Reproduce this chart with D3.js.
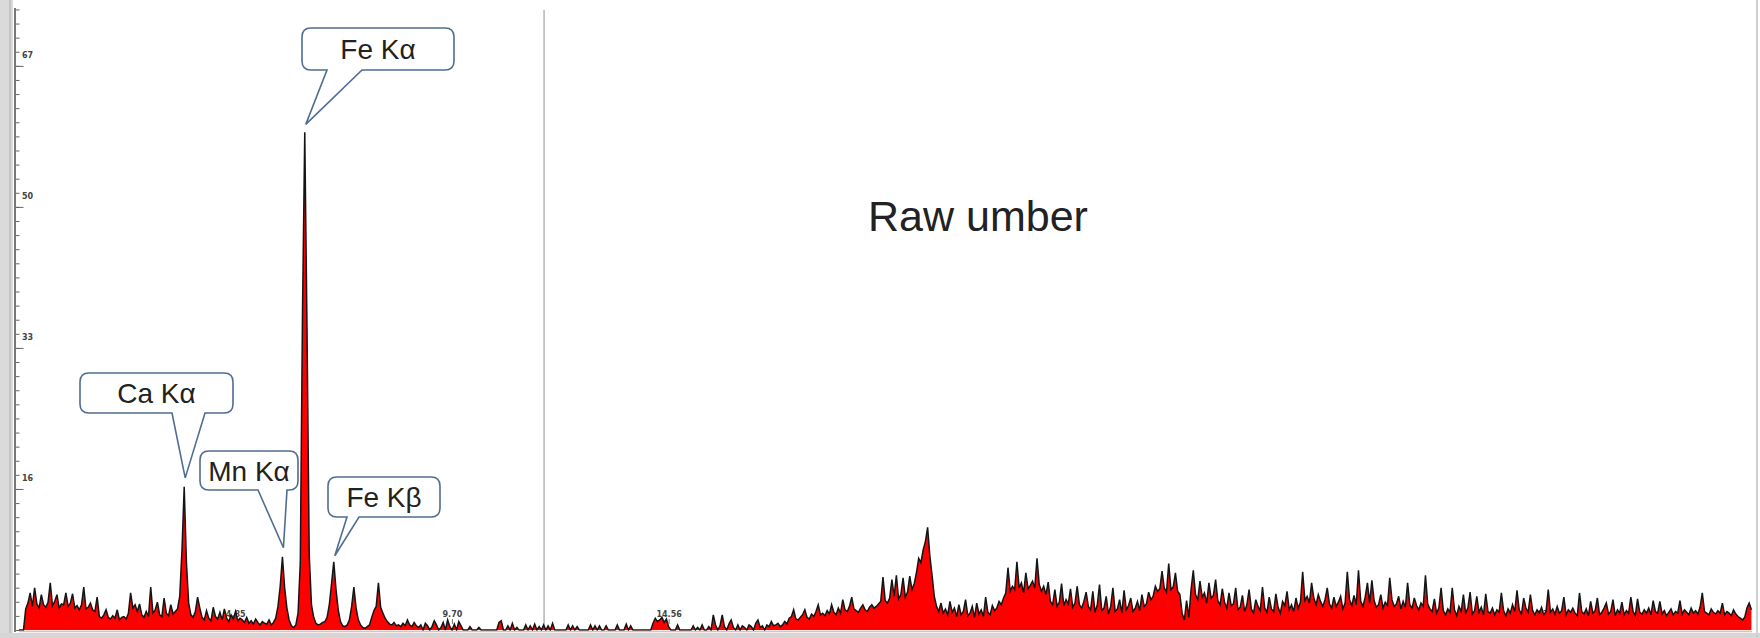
<!DOCTYPE html>
<html><head><meta charset="utf-8">
<script src="https://cdn.jsdelivr.net/npm/d3@7/dist/d3.min.js"></script>
<style>html,body{margin:0;padding:0;background:#fff;overflow:hidden}</style>
</head><body>
<svg id="chart" width="1760" height="638"></svg>
<script>
// ---- data (counts per 0.05 keV channel) ----
const channelWidth = 0.05; // keV
const countsA = [ // 0.00 - 4.95 keV
0,0,0,2.5,3.2,4.4,2.8,5.0,3.1,2.6,4.2,3.0,2.7,3.3,5.6,2.9,3.4,4.2,2.6,3.1,
3.0,4.4,2.8,3.2,4.3,2.6,2.9,2.4,3.0,5.1,2.5,2.7,3.2,2.4,2.2,3.9,1.6,1.4,1.8,2.4,
1.5,1.3,1.7,1.4,2.4,1.2,1.5,1.6,1.3,2.0,4.4,2.6,3.0,2.2,3.1,1.8,1.5,2.2,1.6,5.1,
2.0,2.4,3.3,1.8,1.6,3.8,2.0,1.7,3.0,1.9,2.2,2.5,4.0,9.5,17.0,8.0,3.2,1.8,1.5,2.2,
3.9,2.6,1.5,1.2,2.3,1.4,1.1,2.7,1.6,1.3,2.1,1.2,2.5,1.4,1.0,1.8,1.3,2.2,1.1,1.4];
const countsB = [ // 5.00 - 9.95 keV
1.2,0.9,1.5,0.8,1.1,0.7,1.3,0.9,0.6,1.0,0.8,0.7,1.2,0.6,0.9,1.4,2.8,5.2,8.7,5.0,
2.6,1.2,0.5,0.3,0.6,2.0,8.0,38,59.1,36,9.0,3.0,1.5,0.8,0.6,0.7,0.9,1.0,1.5,3.0,
5.5,8.1,4.8,2.4,1.0,0.5,0.4,0.6,1.2,2.8,5.1,2.6,1.2,0.6,0.3,0.2,0.4,0.6,1.5,2.3,
2.8,5.6,2.7,2.0,1.4,1.0,0.7,0.6,0.9,0.5,0.6,0.4,0.8,0.5,1.2,0.6,0.4,0.9,0.5,0.3,
0.6,0,0.8,0.5,0,0.4,1.1,0.6,0,0.3,0.9,0,1.2,0.4,0,0.7,0,1.0,0.5,0];
const countsC = [ // 10.00 - 14.95 keV
0,0,0.4,0,0,0,0.3,0,0,0,0,0,0,0,0,0.9,1.1,0,0,0.5,
0,0.8,0,0.3,0,0,0,0.6,0,0.5,0,0.7,0,0.4,0,0.6,0,0.5,0,0.8,
0,0,0,0,0,0,0.6,0,0.5,0,0.4,0,0,0,0,0,0.6,0,0.5,0,
0.5,0,0,0.5,0,0,0,0,0.6,0,0,0,0.7,0,0.5,0,0,0,0,0,
0,0,0,0,0.8,1.4,1.0,1.2,1.5,0.9,1.3,0.4,0,0,0,0.6,0,0,0,0];
const countsD = [ // 15.00 - 19.95 keV
0,0,0.5,0,0.3,0,0.6,0,0,0.4,0,1.8,0.6,0,0.5,1.8,0.4,0,0.7,1.2,
0.3,0,0.6,0,0.5,0.3,0,0.6,0.4,0,0.8,1.2,0.3,0.5,0,0.6,0.4,1.0,0.5,0.6,
0.8,0.4,0.6,1.0,0.7,1.4,1.6,2.4,1.3,1.2,1.5,1.8,2.4,1.5,1.3,1.9,1.6,2.2,3.0,1.8,
2.0,1.7,2.3,1.9,3.0,2.1,1.8,2.6,2.0,3.6,2.4,2.2,2.8,3.9,2.5,2.3,2.1,2.6,3.0,2.4,
2.2,2.7,3.0,2.6,2.8,3.1,3.4,6.3,3.5,3.2,3.8,6.0,4.0,6.5,3.7,4.2,6.2,3.9,4.5,6.4];
const countsE = [ // 20.00 - 24.95 keV
4.8,5.5,6.8,8.5,8.0,9.5,10.5,12.2,8.8,6.5,4.0,2.8,2.2,3.2,2.0,2.5,1.8,3.4,2.1,2.6,
1.6,3.0,1.8,2.2,3.6,1.7,2.0,2.8,1.5,3.2,1.9,2.4,1.6,3.9,2.1,1.8,2.9,2.3,2.6,3.4,
3.0,3.8,4.4,7.4,4.6,5.2,4.8,8.1,5.0,5.6,4.4,6.8,4.9,5.3,5.8,5.0,8.5,5.4,4.6,5.2,
4.2,5.7,3.4,3.0,4.8,2.8,3.3,5.5,2.9,3.6,3.1,4.9,2.7,3.2,5.2,3.0,2.6,3.4,4.5,2.8,
2.4,4.6,2.1,3.0,5.4,2.3,2.6,4.0,1.9,2.8,5.0,2.2,2.5,3.6,2.0,4.7,2.4,2.9,3.8,2.2];
const countsF = [ // 25.00 - 29.95 keV
2.6,3.4,2.3,4.2,2.8,3.1,4.5,3.6,4.0,5.2,4.6,4.9,7.0,5.0,4.5,7.9,4.8,5.1,6.8,4.6,
4.2,2.0,1.2,3.5,1.5,4.8,7.1,4.2,3.6,5.8,3.9,4.4,3.2,5.6,3.8,4.1,6.0,3.5,3.0,4.9,
3.3,2.6,4.4,2.9,3.1,5.0,2.4,2.7,4.1,2.2,3.0,4.8,2.5,2.0,3.6,2.8,2.3,5.1,2.6,2.1,
3.9,2.5,2.2,4.3,2.7,2.0,3.4,2.9,4.6,2.4,3.0,2.2,3.8,2.6,3.3,6.9,3.5,4.0,3.2,5.6,
3.8,3.0,4.2,3.4,2.8,3.6,5.0,3.1,2.6,3.9,2.8,3.3,4.0,2.5,3.2,6.9,3.6,2.9,4.1,3.0];
const countsG = [ // 30.00 - 34.95 keV
7.1,3.4,2.8,3.9,5.6,3.2,5.9,3.5,2.7,3.0,4.2,2.6,3.3,2.9,6.2,3.6,2.8,3.1,4.0,2.5,
3.4,2.7,5.6,3.0,2.6,3.8,2.9,2.4,3.2,2.8,6.5,3.1,2.5,2.2,3.7,2.0,2.6,5.0,2.3,1.8,
2.5,2.1,5.0,2.4,1.7,2.8,2.2,4.2,2.0,2.6,4.5,1.9,2.3,4.0,2.1,2.7,1.8,4.3,2.2,2.0,
2.6,1.8,2.4,2.1,4.4,2.3,1.7,2.5,2.0,3.0,2.2,4.7,2.4,1.9,3.8,2.6,2.1,4.2,2.3,1.8,
2.4,2.0,2.7,1.8,2.2,4.8,2.1,2.5,1.9,2.8,2.0,2.3,3.9,1.8,2.4,2.1,2.6,2.0,1.7,4.4];
const countsH = [ // 35.00 - 38.80 keV
2.2,1.9,2.5,1.7,3.4,2.0,2.3,3.8,1.8,2.1,2.6,3.2,1.9,2.2,3.6,1.7,2.4,2.0,3.3,1.8,
2.3,2.0,3.9,2.2,1.7,3.7,2.1,1.9,2.4,2.0,2.6,1.8,3.5,2.2,2.0,3.4,1.9,2.3,1.7,2.1,
2.5,1.8,2.2,2.0,3.5,1.9,2.4,2.1,1.8,2.6,2.0,2.3,1.9,2.7,4.4,2.2,2.0,1.8,2.5,2.1,
1.9,2.3,2.0,3.2,1.8,2.2,2.0,1.7,2.4,1.9,1.6,1.4,1.2,1.5,2.6,3.2,2.4];

const yTickValues = [16.75, 33.5, 50.25, 67];
const yTickLabels = ["16", "33", "50", "67"];
const xTickValues = [4.8535, 9.707, 14.5605, 19.414, 24.2675, 29.121, 33.9745];
const xTickLabels = ["4.85", "9.70", "14.56", "19.41", "24.26", "29.12", "33.97"];
const peakNames = ["Ca Kα", "Mn Kα", "Fe Kα", "Fe Kβ"];
const peakEnergies = [3.70, 5.90, 6.40, 7.05];
const titleText = "Raw umber";
const cursorEnergy = 11.76;

// ---- build ----
const counts = [].concat(countsA, countsB, countsC, countsD, countsE, countsF, countsG, countsH);
const spectrum = counts.map((c, i) => ({ e: i * channelWidth, c: c }));

const svg = d3.select("#chart");
const x = d3.scaleLinear().domain([0, 38.8]).range([19, 1751.4]);
const y = d3.scaleLinear().domain([0, 67]).range([630, 630 - 67 * 8.42]);
const FONT = "'Liberation Sans', Arial, sans-serif";

// window frame pieces
svg.append("rect").attr("x", 0).attr("y", 0).attr("width", 13).attr("height", 638).attr("fill", "#dadada");
svg.append("rect").attr("x", 9).attr("y", 0).attr("width", 2).attr("height", 638).attr("fill", "#c4c4c4");
svg.append("rect").attr("x", 0).attr("y", 633).attr("width", 1760).attr("height", 5).attr("fill", "#d6d6d6");
svg.append("line").attr("x1", 1757).attr("x2", 1757).attr("y1", 0).attr("y2", 638).attr("stroke", "#cfcfcf").attr("stroke-width", 2);

// cursor line
svg.append("line").attr("x1", x(cursorEnergy)).attr("x2", x(cursorEnergy))
  .attr("y1", 10).attr("y2", 630).attr("stroke", "#a8a8a8").attr("stroke-width", 1.3);

// x tick labels (under the spectrum)
const xt = svg.append("g");
xTickValues.forEach((v, i) => {
  xt.append("text").attr("x", x(v)).attr("y", 617).attr("text-anchor", "middle")
    .attr("font-family", "'DejaVu Sans', sans-serif").attr("font-size", 8).attr("font-weight", "bold")
    .attr("fill", "#444").text(xTickLabels[i]);
  xt.append("line").attr("x1", x(v)).attr("x2", x(v)).attr("y1", 619).attr("y2", 624)
    .attr("stroke", "#777").attr("stroke-width", 1);
});

// spectrum
const area = d3.area().x(d => x(d.e)).y0(y(0)).y1(d => y(d.c));
const line = d3.line().x(d => x(d.e)).y(d => y(d.c));
svg.append("path").datum(spectrum).attr("d", area).attr("fill", "#ff0000");
svg.append("path").datum(spectrum).attr("d", line).attr("fill", "none")
  .attr("stroke", "#141414").attr("stroke-width", 1.5).attr("stroke-linejoin", "miter");
svg.append("line").attr("x1", 19).attr("x2", 1752).attr("y1", 631.5).attr("y2", 631.5)
  .attr("stroke", "#f3b5b5").attr("stroke-width", 1.5);

// y axis
const minorTicks = d3.range(0, 74.5, 1.675);
const ax = svg.append("g").attr("transform", "translate(15.5,0)");
ax.call(d3.axisRight(y).tickValues(minorTicks).tickSize(4).tickFormat(""));
ax.select(".domain").remove();
const ax2 = svg.append("g").attr("transform", "translate(15.5,0)");
ax2.call(d3.axisRight(y).tickValues(yTickValues).tickSize(8).tickFormat(""));
ax2.select(".domain").remove();
svg.selectAll(".tick line").attr("stroke", "#666");
svg.append("line").attr("x1", 15).attr("x2", 15).attr("y1", 8).attr("y2", 632)
  .attr("stroke", "#777").attr("stroke-width", 2);
yTickValues.forEach((v, i) => {
  svg.append("text").attr("x", 22).attr("y", y(v) - 8).attr("font-family", "'DejaVu Sans', sans-serif")
    .attr("font-size", 8).attr("font-weight", "bold").attr("fill", "#444").text(yTickLabels[i]);
});

// callouts
function peakTop(e) {
  const i = Math.round(e / channelWidth);
  return { px: x(spectrum[i].e), py: y(spectrum[i].c) };
}
const calloutBoxes = [
  { x0: 80, y0: 373, x1: 233, y1: 413, a: 172, b: 205, gap: 9 },
  { x0: 200, y0: 451, x1: 298, y1: 490, a: 258, b: 287, gap: 9 },
  { x0: 302, y0: 28, x1: 454, y1: 70, a: 327, b: 362, gap: 8 },
  { x0: 328, y0: 477, x1: 440, y1: 517, a: 347, b: 359, gap: 6 }
];
function bubblePath(bx, tx, ty) {
  const r = 9, p = d3.path();
  p.moveTo(bx.x0 + r, bx.y0);
  p.lineTo(bx.x1 - r, bx.y0);
  p.quadraticCurveTo(bx.x1, bx.y0, bx.x1, bx.y0 + r);
  p.lineTo(bx.x1, bx.y1 - r);
  p.quadraticCurveTo(bx.x1, bx.y1, bx.x1 - r, bx.y1);
  p.lineTo(bx.b, bx.y1);
  p.lineTo(tx, ty);
  p.lineTo(bx.a, bx.y1);
  p.lineTo(bx.x0 + r, bx.y1);
  p.quadraticCurveTo(bx.x0, bx.y1, bx.x0, bx.y1 - r);
  p.lineTo(bx.x0, bx.y0 + r);
  p.quadraticCurveTo(bx.x0, bx.y0, bx.x0 + r, bx.y0);
  p.closePath();
  return p.toString();
}
peakNames.forEach((name, i) => {
  const bx = calloutBoxes[i];
  const t = peakTop(peakEnergies[i]);
  svg.append("path").attr("d", bubblePath(bx, t.px + 1, t.py - bx.gap))
    .attr("fill", "#fff").attr("stroke", "#4f6d93").attr("stroke-width", 1.6);
  svg.append("text").attr("x", (bx.x0 + bx.x1) / 2).attr("y", (bx.y0 + bx.y1) / 2 + 10)
    .attr("text-anchor", "middle").attr("font-family", FONT).attr("font-size", 28)
    .attr("fill", "#222").text(name);
});

// title
svg.append("text").attr("x", 978).attr("y", 231).attr("text-anchor", "middle")
  .attr("font-family", FONT).attr("font-size", 43).attr("fill", "#222").text(titleText);
</script>
</body></html>
